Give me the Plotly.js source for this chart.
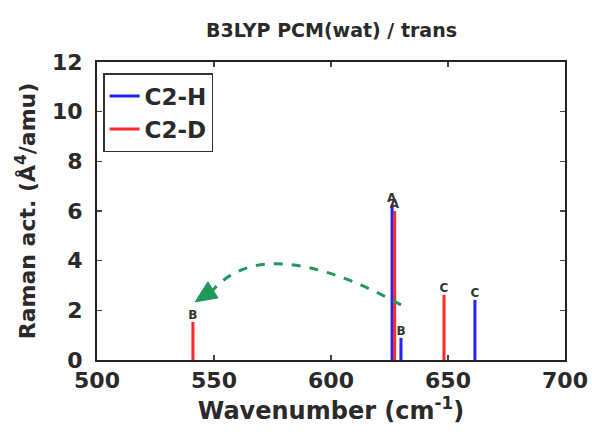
<!DOCTYPE html>
<html><head><meta charset="utf-8">
<script src="https://cdn.plot.ly/plotly-3.0.1.min.js"></script>
<style>body{margin:0;background:#fff}#c{width:592px;height:437px}</style>
</head><body><div id="c"></div>
<script>
const seriesNames = ["C2-H", "C2-D"];
const hWavenumbers = [626.1, 629.9, 661.5];
const hActivities  = [6.25, 0.89, 2.42];
const hLabels      = ["A", "B", "C"];
const dWavenumbers = [627.2, 541.0, 648.3];
const dActivities  = [6.0, 1.53, 2.62];
const dLabels      = ["A", "B", "C"];
const xTicks = [500, 550, 600, 650, 700];
const yTicks = [0, 2, 4, 6, 8, 10, 12];

const font = "DejaVu Sans, Liberation Sans, sans-serif";
const labelFont = {family: font, size: 12, color: "#333", weight: "bold"};
const blue = "#2323ff", red = "#ff2a2a";

function barTrace(name, xs, ys, labels, color) {
  return {
    type: "bar", name: name, x: xs, y: ys, text: labels, showlegend: false,
    textposition: "outside", constraintext: "none", cliponaxis: false,
    textfont: labelFont, width: 1.3,
    marker: {color: color, line: {width: 0}},
    hoverinfo: "x+y"
  };
}
function legendTrace(name, color) {
  return {type: "scatter", mode: "lines", name: name, x: [null], y: [null],
          line: {color: color, width: 3}};
}

const data = [
  barTrace(seriesNames[0], hWavenumbers, hActivities, hLabels, blue),
  barTrace(seriesNames[1], dWavenumbers, dActivities, dLabels, red),
  legendTrace(seriesNames[0], blue),
  legendTrace(seriesNames[1], red)
];

const layout = {
  width: 592, height: 437,
  margin: {l: 97, r: 27, t: 62, b: 77},
  paper_bgcolor: "#fff", plot_bgcolor: "#fff",
  barmode: "overlay",
  font: {family: font, color: "#222"},
  title: {text: "B3LYP PCM(wat) / trans", x: 0.56, xanchor: "center", y: 0.93, yanchor: "middle",
          font: {family: font, size: 19, weight: "bold", color: "#2a2a2a"}},
  xaxis: {range: [500, 700], tickvals: xTicks, ticks: "inside", ticklen: 5, tickwidth: 1.5,
          showline: true, linecolor: "#222", linewidth: 2, mirror: "ticks", showgrid: false,
          zeroline: false, tickfont: {size: 22, family: font, weight: "bold", color: "#2a2a2a"},
          title: {text: "Wavenumber (cm<sup>-1</sup>)", standoff: 5,
                  font: {size: 24, family: font, weight: "bold", color: "#2a2a2a"}}},
  yaxis: {range: [0, 12], tickvals: yTicks, ticks: "inside", ticklen: 5, tickwidth: 1.5,
          showline: true, linecolor: "#222", linewidth: 2, mirror: "ticks", showgrid: false,
          zeroline: false, ticklabelstandoff: 8,
          tickfont: {size: 22, family: font, weight: "bold", color: "#2a2a2a"},
          title: {text: "Raman act. (Å<sup>4</sup>/amu)", standoff: 10,
                  font: {size: 22, family: font, weight: "bold", color: "#2a2a2a"}}},
  legend: {x: 0.013, y: 0.963, xanchor: "left", yanchor: "top",
           bordercolor: "#333", borderwidth: 1.5, bgcolor: "#fff",
           font: {family: font, size: 23, weight: "bold", color: "#2a2a2a"},
           itemwidth: 30, tracegroupgap: 0, entrywidth: 120, entrywidthmode: "pixels"},
  shapes: [
    {type: "path", xref: "x", yref: "y",
     path: "M 629.9,2.22 Q 572,5.2 549.6,2.82",
     line: {color: "#1f9a5a", width: 3, dash: "dash"}},
    {type: "path", xref: "x", yref: "y",
     path: "M 541.9,2.34 L 547.4,3.15 L 551.7,2.5 Z",
     fillcolor: "#1f9a5a", line: {color: "#1f9a5a", width: 1}}
  ]
};

Plotly.newPlot("c", data, layout, {displayModeBar: false, staticPlot: true});
</script></body></html>
